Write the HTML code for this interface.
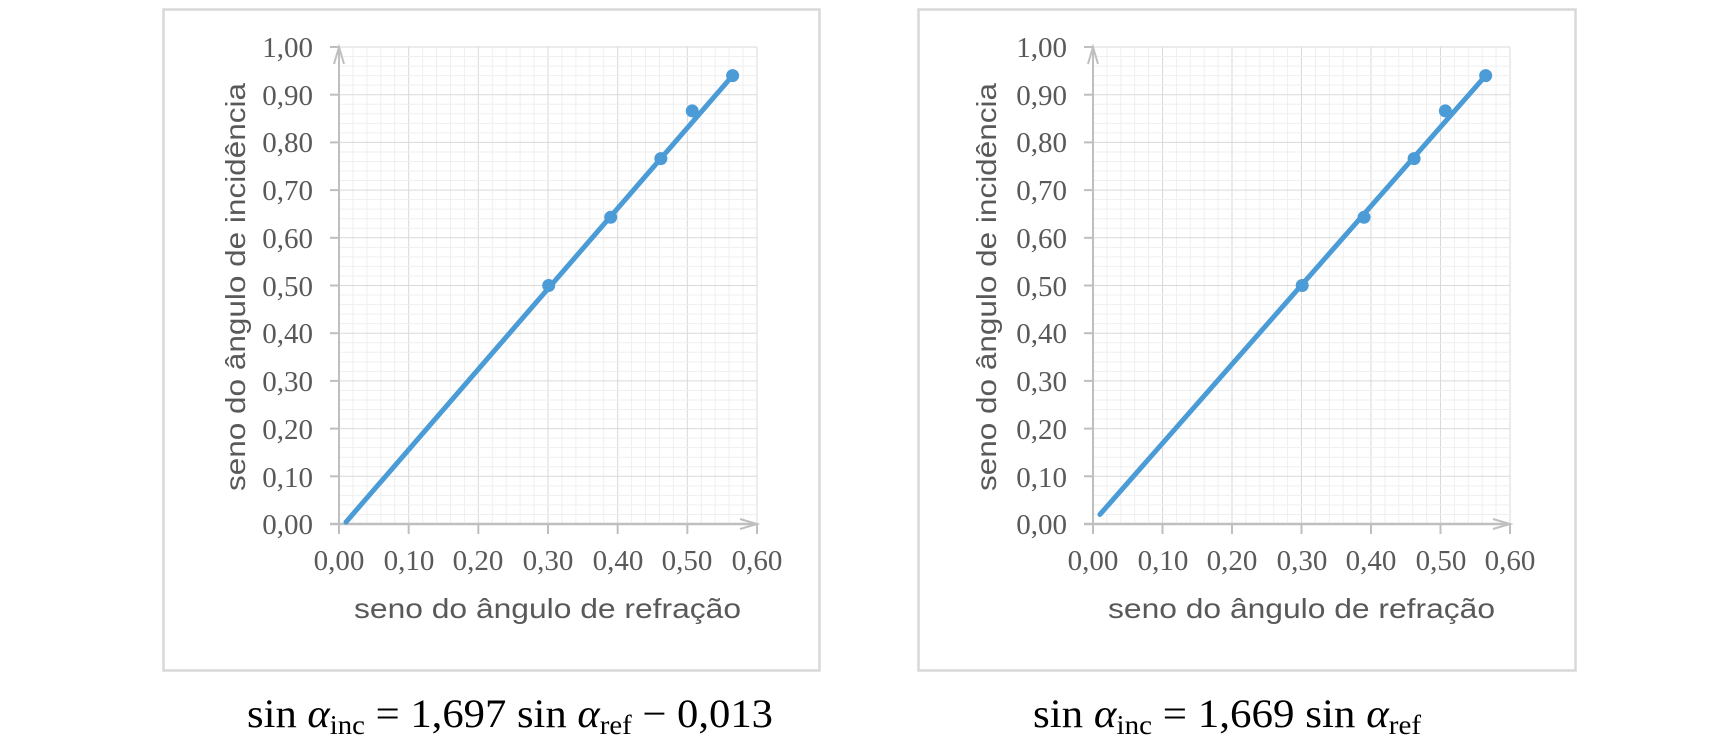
<!DOCTYPE html>
<html><head><meta charset="utf-8"><style>
html,body{margin:0;padding:0;background:#fff;width:1728px;height:746px;overflow:hidden}
svg{display:block}
.t{font-family:"Liberation Serif",serif;font-size:29px;fill:#595959}
.ti{font-family:"Liberation Sans",sans-serif;font-size:28px;fill:#595959}
.f{font-family:"Liberation Serif",serif;font-size:40px;fill:#000}
</style></head><body>
<svg id="s" width="1728" height="746" viewBox="0 0 1728 746">
<rect x="163.5" y="9.5" width="656" height="661" fill="none" stroke="#d9d9d9" stroke-width="2.5"/>
<rect x="918.5" y="9.5" width="657" height="661" fill="none" stroke="#d9d9d9" stroke-width="2.5"/>
<g id="g1"></g><g id="g2"></g>
<!-- chart 1 labels -->
<g class="t" text-anchor="end">
<text x="313" y="57">1,00</text><text x="313" y="105">0,90</text><text x="313" y="152">0,80</text><text x="313" y="200">0,70</text><text x="313" y="248">0,60</text><text x="313" y="296">0,50</text><text x="313" y="343">0,40</text><text x="313" y="391">0,30</text><text x="313" y="439">0,20</text><text x="313" y="487">0,10</text><text x="313" y="534">0,00</text>
</g>
<g class="t" text-anchor="middle">
<text x="339" y="570">0,00</text><text x="409" y="570">0,10</text><text x="478" y="570">0,20</text><text x="548" y="570">0,30</text><text x="618" y="570">0,40</text><text x="687" y="570">0,50</text><text x="757" y="570">0,60</text>
</g>
<text class="ti" x="354" y="618" textLength="387" lengthAdjust="spacingAndGlyphs">seno do ângulo de refração</text>
<text class="ti" transform="translate(245,491) rotate(-90)" textLength="408" lengthAdjust="spacingAndGlyphs">seno do ângulo de incidência</text>
<text class="f" x="247" y="727" textLength="526" lengthAdjust="spacingAndGlyphs">sin <tspan font-style="italic">α</tspan><tspan font-size="27" dy="7">inc</tspan><tspan dy="-7"> = 1,697 sin </tspan><tspan font-style="italic">α</tspan><tspan font-size="27" dy="7">ref</tspan><tspan dy="-7"> − 0,013</tspan></text>
<!-- chart 2 labels -->
<g class="t" text-anchor="end">
<text x="1067" y="57">1,00</text><text x="1067" y="105">0,90</text><text x="1067" y="152">0,80</text><text x="1067" y="200">0,70</text><text x="1067" y="248">0,60</text><text x="1067" y="296">0,50</text><text x="1067" y="343">0,40</text><text x="1067" y="391">0,30</text><text x="1067" y="439">0,20</text><text x="1067" y="487">0,10</text><text x="1067" y="534">0,00</text>
</g>
<g class="t" text-anchor="middle">
<text x="1093" y="570">0,00</text><text x="1163" y="570">0,10</text><text x="1232" y="570">0,20</text><text x="1302" y="570">0,30</text><text x="1371" y="570">0,40</text><text x="1441" y="570">0,50</text><text x="1510" y="570">0,60</text>
</g>
<text class="ti" x="1108" y="618" textLength="387" lengthAdjust="spacingAndGlyphs">seno do ângulo de refração</text>
<text class="ti" transform="translate(996,491) rotate(-90)" textLength="408" lengthAdjust="spacingAndGlyphs">seno do ângulo de incidência</text>
<text class="f" x="1033" y="727" textLength="388" lengthAdjust="spacingAndGlyphs">sin <tspan font-style="italic">α</tspan><tspan font-size="27" dy="7">inc</tspan><tspan dy="-7"> = 1,669 sin </tspan><tspan font-style="italic">α</tspan><tspan font-size="27" dy="7">ref</tspan></text>
</svg>
<script>
function chart(id,x0,x1,b){
 var y0=524,y1=47,g=document.getElementById(id),h='';
 var X=function(v){return x0+(x1-x0)*v/0.6},Y=function(v){return y0+(y1-y0)*v};
 for(var i=0;i<=30;i++){var x=x0+(x1-x0)*i/30;h+='<line x1="'+x+'" y1="'+y1+'" x2="'+x+'" y2="'+y0+'" stroke="'+(i%5?'#efefef':'#d9d9d9')+'" stroke-width="1"/>';}
 for(var i=0;i<=50;i++){var y=y0+(y1-y0)*i/50;h+='<line x1="'+x0+'" y1="'+y+'" x2="'+x1+'" y2="'+y+'" stroke="'+(i%5?'#efefef':'#d9d9d9')+'" stroke-width="1"/>';}
 for(var i=0;i<=10;i++){var y=Y(i/10);h+='<line x1="'+(x0-9)+'" y1="'+y+'" x2="'+x0+'" y2="'+y+'" stroke="#bfbfbf" stroke-width="2"/>';}
 for(var i=0;i<=6;i++){var x=X(i/10);h+='<line x1="'+x+'" y1="'+y0+'" x2="'+x+'" y2="'+(y0+10)+'" stroke="#bfbfbf" stroke-width="2"/>';}
 h+='<line x1="'+x0+'" y1="'+(y0+10)+'" x2="'+x0+'" y2="'+(y1+2)+'" stroke="#bfbfbf" stroke-width="2"/>';
 h+='<path d="M'+(x0-5)+' '+(y1+17)+' L'+x0+' '+(y1)+' L'+(x0+5)+' '+(y1+17)+'" fill="none" stroke="#bfbfbf" stroke-width="2"/>';
 h+='<line x1="'+(x0-9)+'" y1="'+y0+'" x2="'+(x1-2)+'" y2="'+y0+'" stroke="#bfbfbf" stroke-width="2.5"/>';
 h+='<path d="M'+(x1-17)+' '+(y0-5)+' L'+x1+' '+y0+' L'+(x1-17)+' '+(y0+5)+'" fill="none" stroke="#bfbfbf" stroke-width="2"/>';
 h+='<line x1="'+X(0.01)+'" y1="'+Y(b)+'" x2="'+X(0.565)+'" y2="'+Y(0.94)+'" stroke="#4a9bd6" stroke-width="5" stroke-linecap="round"/>';
 [[0.301,0.5],[0.39,0.643],[0.462,0.766],[0.507,0.866],[0.565,0.94]].forEach(function(p){h+='<circle cx="'+X(p[0])+'" cy="'+Y(p[1])+'" r="6.5" fill="#4a9bd6"/>';});
 g.innerHTML=h;
}
chart('g1',339,757,0.004);chart('g2',1093,1510,0.02);
</script>
</body></html>
